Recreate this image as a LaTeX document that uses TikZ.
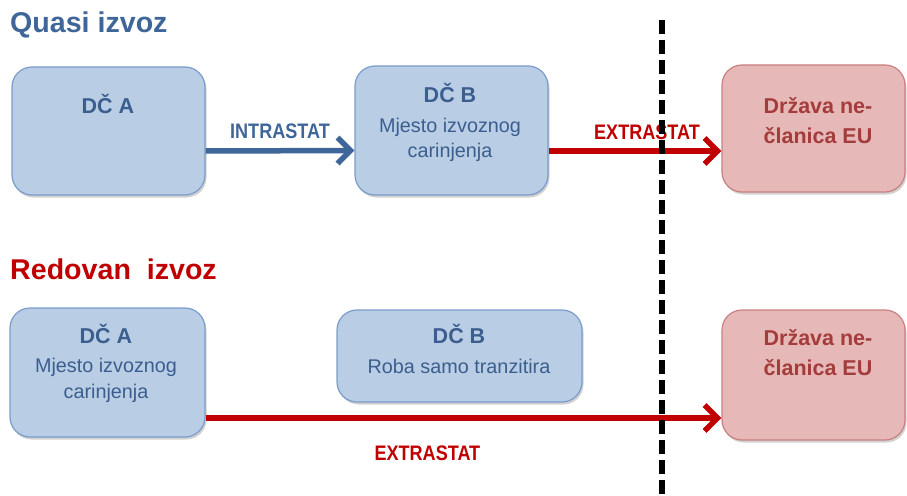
\documentclass[tikz,border=0pt]{standalone}
\usepackage{fontspec}
\setmainfont{Liberation Sans}
\newfontfamily\narrowfont[FakeStretch=0.86]{Liberation Sans}
\usetikzlibrary{arrows.meta,shadows,positioning}

\definecolor{boxfill}{HTML}{B9CDE5}
\definecolor{boxline}{HTML}{7A9CCB}
\definecolor{boxtext}{HTML}{3B5E8F}
\definecolor{flowblue}{HTML}{3F6699}
\definecolor{pinkfill}{HTML}{E6B9B8}
\definecolor{pinkline}{HTML}{C9807F}
\definecolor{pinktext}{HTML}{A33C3B}
\definecolor{extrared}{HTML}{C00000}

\tikzset{
  bluebox/.style={draw=boxline,fill=boxfill,line width=1.2pt,rounded corners=20pt,
    drop shadow={shadow xshift=1.5pt,shadow yshift=-2.5pt,opacity=.3,fill=black!60}},
  pinkbox/.style={bluebox,draw=pinkline,fill=pinkfill},
  head/.style={font=\fontsize{21.5}{26}\selectfont\bfseries,anchor=base,inner sep=0pt},
  sub/.style={font=\fontsize{19.8}{24}\selectfont,anchor=base,inner sep=0pt,text=boxtext},
  flow/.style={line width=5.5pt,-{Straight Barb[length=13pt,width=26pt]}},
  flowlabel/.style={font=\narrowfont\fontsize{21}{24}\selectfont\bfseries,inner sep=0pt},
  title/.style={font=\fontsize{28.6}{32}\selectfont\bfseries,anchor=base west,inner sep=0pt}
}

\begin{document}
\begin{tikzpicture}[x=1pt,y=-1pt]
\useasboundingbox (0,0) rectangle (907,495);

% Quasi izvoz
\node[title,text=flowblue] (quasi) at (10,33) {Quasi izvoz};
\node[bluebox,minimum width=193pt,minimum height=128pt] (dcA) at (108.5,131) {};
\node[bluebox,minimum width=193pt,minimum height=129pt] (dcB) at (451.5,130.5) {};
\node[pinkbox,minimum width=183pt,minimum height=127pt] (nonEU) at (813.5,128.5) {};
\node[head,text=boxtext] (dcAname) at (108,113) {DČ A};
\node[head,text=boxtext] (dcBname) at (450,102) {DČ B};
\node[sub] (dcBplace) at (450,132) {Mjesto izvoznog};
\node[sub] (dcBplaceb) at (450,157) {carinjenja};
\node[head,text=pinktext] (nonEUname) at (818,113) {Država ne-};
\node[head,text=pinktext] (nonEUnameb) at (818,143) {članica EU};

\draw[flow,flowblue] ([yshift=-20pt]dcA.east) -- ([yshift=-20pt]dcB.west)
  node[flowlabel,midway,above=9pt,text=flowblue] (intra) {INTRASTAT};
\draw[flow,extrared] ([yshift=-20.5pt]dcB.east) -- ([yshift=-20.5pt]dcB.east -| nonEU.west)
  node[flowlabel,midway,above=9pt,xshift=12pt,text=extrared] (extra) {EXTRASTAT};

% Redovan izvoz
\node[title,text=extrared] (redovan) at (10,279) {Redovan~~izvoz};
\node[bluebox,minimum width=195pt,minimum height=129pt] (dcAr) at (107.5,372.5) {};
\node[bluebox,minimum width=245pt,minimum height=92pt] (dcBr) at (459.5,356) {};
\node[pinkbox,minimum width=183pt,minimum height=130pt] (nonEUr) at (813.5,375) {};
\node[head,text=boxtext] (dcArname) at (106,343) {DČ A};
\node[sub] (dcArplace) at (106,372) {Mjesto izvoznog};
\node[sub] (dcArplaceb) at (106,398) {carinjenja};
\node[head,text=boxtext] (dcBrname) at (459,343) {DČ B};
\node[sub] (dcBrtransit) at (459,373) {Roba samo tranzitira};
\node[head,text=pinktext] (nonEUrname) at (818,345) {Država ne-};
\node[head,text=pinktext] (nonEUrnameb) at (818,375) {članica EU};

\draw[flow,extrared] ([yshift=-45.5pt]dcAr.east) -- ([yshift=-45.5pt]dcAr.east -| nonEUr.west)
  node[flowlabel,pos=.43,below=25pt,text=extrared] (extrar) {EXTRASTAT};

% granica EU
\coordinate (borderTop) at (662,20);
\coordinate (borderBot) at (662,495);
\draw[line width=6.5pt,dash pattern=on 14pt off 6pt] (borderTop) -- (borderBot);
\end{tikzpicture}
\end{document}
